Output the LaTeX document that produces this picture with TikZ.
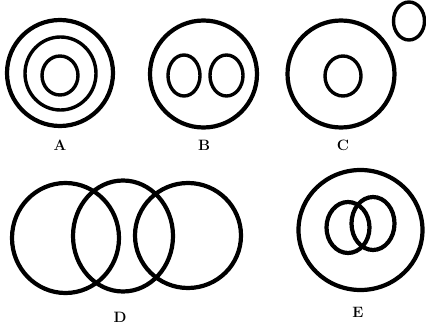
\documentclass[tikz,border=0pt]{standalone}
\usepackage{amsfonts,amssymb,amsmath}
\usepackage{xcolor}
\usetikzlibrary{arrows.meta}

\begin{document}
\begin{tikzpicture}[x=1pt,y=-1pt,
  ring/.style={line width=4.2pt},
  inring/.style={line width=3.4pt},
  lab/.style={font=\bfseries\fontsize{15}{15}\selectfont}]
\useasboundingbox (0,0) rectangle (426,329);
% A
\draw[ring](60,73) circle (53);
\draw[inring](60.5,73.5) ellipse (35.5 and 36.5);
\draw[inring](60,75.5) ellipse (18 and 19.5);
\node[lab] (labA) at (60,145) {A};
% B
\draw[ring](203.5,74) circle (53.5);
\draw[inring](184,75.5) ellipse (16 and 20.5);
\draw[inring](226.5,75.5) ellipse (16.5 and 20.5);
\node[lab] (labB) at (204,145) {B};
% C
\draw[ring](341,74) circle (53.5);
\draw[inring](343,76) ellipse (18 and 20);
\node[lab] (labC) at (343,145) {C};
\draw[inring](409,21) ellipse (15.5 and 19);
% D
\draw[ring](65.5,238) ellipse (53.5 and 55);
\draw[ring](123,236) ellipse (50 and 55.5);
\draw[ring](188,235.5) ellipse (53 and 52.5);
\node[lab] (labD) at (120,317) {D};
% E
\draw[ring](360.5,230) ellipse (62 and 60);
\draw[ring](348,227.5) ellipse (21.5 and 25.5);
\draw[ring](373,223.5) ellipse (21.5 and 26.5);
\node[lab] (labE) at (358,312) {E};
\end{tikzpicture}
\end{document}
